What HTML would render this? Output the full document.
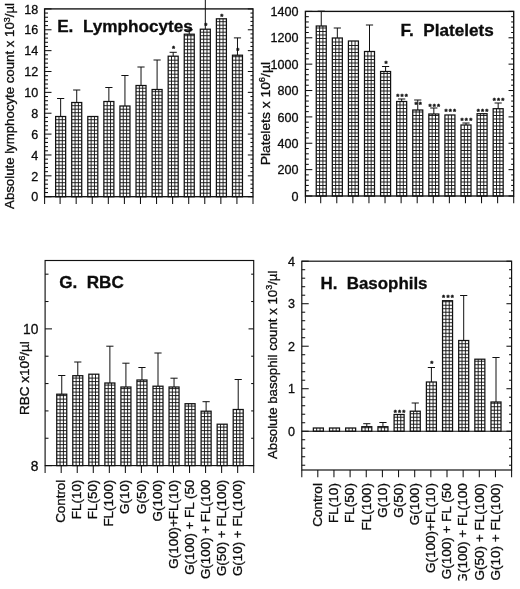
<!DOCTYPE html>
<html><head><meta charset="utf-8"><title>Figure panels E-H</title>
<style>
html,body{margin:0;padding:0;background:#fff;}
body{width:520px;height:589px;overflow:hidden;}
svg{display:block;filter:blur(0.4px);}
svg text{font-family:"Liberation Sans",Arial,Helvetica,sans-serif;fill:#0c0c0c;stroke:#0c0c0c;stroke-width:0.3px;}
</style></head><body>
<svg width="520" height="589" viewBox="0 0 520 589">
<rect width="520" height="589" fill="#fff"/>
<path d="M58.98 116.50V196.70M62.32 116.50V196.70M55.65 193.20H65.65M55.65 189.70H65.65M55.65 186.20H65.65M55.65 182.70H65.65M55.65 179.20H65.65M55.65 175.70H65.65M55.65 172.20H65.65M55.65 168.70H65.65M55.65 165.20H65.65M55.65 161.70H65.65M55.65 158.20H65.65M55.65 154.70H65.65M55.65 151.20H65.65M55.65 147.70H65.65M55.65 144.20H65.65M55.65 140.70H65.65M55.65 137.20H65.65M55.65 133.70H65.65M55.65 130.20H65.65M55.65 126.70H65.65M55.65 123.20H65.65M55.65 119.70H65.65" stroke="#111" stroke-width="0.92" fill="none"/>
<rect x="55.65" y="116.50" width="10.00" height="80.20" fill="none" stroke="#111" stroke-width="1.25"/>
<line x1="60.65" y1="98.50" x2="60.65" y2="116.50" stroke="#111" stroke-width="1.0"/>
<line x1="57.05" y1="98.50" x2="64.25" y2="98.50" stroke="#111" stroke-width="1.0"/>
<path d="M75.06 102.50V196.70M78.39 102.50V196.70M71.72 193.20H81.72M71.72 189.70H81.72M71.72 186.20H81.72M71.72 182.70H81.72M71.72 179.20H81.72M71.72 175.70H81.72M71.72 172.20H81.72M71.72 168.70H81.72M71.72 165.20H81.72M71.72 161.70H81.72M71.72 158.20H81.72M71.72 154.70H81.72M71.72 151.20H81.72M71.72 147.70H81.72M71.72 144.20H81.72M71.72 140.70H81.72M71.72 137.20H81.72M71.72 133.70H81.72M71.72 130.20H81.72M71.72 126.70H81.72M71.72 123.20H81.72M71.72 119.70H81.72M71.72 116.20H81.72M71.72 112.70H81.72M71.72 109.20H81.72M71.72 105.70H81.72" stroke="#111" stroke-width="0.92" fill="none"/>
<rect x="71.72" y="102.50" width="10.00" height="94.20" fill="none" stroke="#111" stroke-width="1.25"/>
<line x1="76.72" y1="90.00" x2="76.72" y2="102.50" stroke="#111" stroke-width="1.0"/>
<line x1="73.12" y1="90.00" x2="80.32" y2="90.00" stroke="#111" stroke-width="1.0"/>
<path d="M91.13 116.50V196.70M94.47 116.50V196.70M87.80 193.20H97.80M87.80 189.70H97.80M87.80 186.20H97.80M87.80 182.70H97.80M87.80 179.20H97.80M87.80 175.70H97.80M87.80 172.20H97.80M87.80 168.70H97.80M87.80 165.20H97.80M87.80 161.70H97.80M87.80 158.20H97.80M87.80 154.70H97.80M87.80 151.20H97.80M87.80 147.70H97.80M87.80 144.20H97.80M87.80 140.70H97.80M87.80 137.20H97.80M87.80 133.70H97.80M87.80 130.20H97.80M87.80 126.70H97.80M87.80 123.20H97.80M87.80 119.70H97.80" stroke="#111" stroke-width="0.92" fill="none"/>
<rect x="87.80" y="116.50" width="10.00" height="80.20" fill="none" stroke="#111" stroke-width="1.25"/>
<path d="M107.21 101.50V196.70M110.54 101.50V196.70M103.87 193.20H113.87M103.87 189.70H113.87M103.87 186.20H113.87M103.87 182.70H113.87M103.87 179.20H113.87M103.87 175.70H113.87M103.87 172.20H113.87M103.87 168.70H113.87M103.87 165.20H113.87M103.87 161.70H113.87M103.87 158.20H113.87M103.87 154.70H113.87M103.87 151.20H113.87M103.87 147.70H113.87M103.87 144.20H113.87M103.87 140.70H113.87M103.87 137.20H113.87M103.87 133.70H113.87M103.87 130.20H113.87M103.87 126.70H113.87M103.87 123.20H113.87M103.87 119.70H113.87M103.87 116.20H113.87M103.87 112.70H113.87M103.87 109.20H113.87M103.87 105.70H113.87" stroke="#111" stroke-width="0.92" fill="none"/>
<rect x="103.87" y="101.50" width="10.00" height="95.20" fill="none" stroke="#111" stroke-width="1.25"/>
<line x1="108.87" y1="87.50" x2="108.87" y2="101.50" stroke="#111" stroke-width="1.0"/>
<line x1="105.27" y1="87.50" x2="112.47" y2="87.50" stroke="#111" stroke-width="1.0"/>
<path d="M123.28 106.00V196.70M126.62 106.00V196.70M119.95 193.20H129.95M119.95 189.70H129.95M119.95 186.20H129.95M119.95 182.70H129.95M119.95 179.20H129.95M119.95 175.70H129.95M119.95 172.20H129.95M119.95 168.70H129.95M119.95 165.20H129.95M119.95 161.70H129.95M119.95 158.20H129.95M119.95 154.70H129.95M119.95 151.20H129.95M119.95 147.70H129.95M119.95 144.20H129.95M119.95 140.70H129.95M119.95 137.20H129.95M119.95 133.70H129.95M119.95 130.20H129.95M119.95 126.70H129.95M119.95 123.20H129.95M119.95 119.70H129.95M119.95 116.20H129.95M119.95 112.70H129.95M119.95 109.20H129.95" stroke="#111" stroke-width="0.92" fill="none"/>
<rect x="119.95" y="106.00" width="10.00" height="90.70" fill="none" stroke="#111" stroke-width="1.25"/>
<line x1="124.95" y1="75.50" x2="124.95" y2="106.00" stroke="#111" stroke-width="1.0"/>
<line x1="121.35" y1="75.50" x2="128.55" y2="75.50" stroke="#111" stroke-width="1.0"/>
<path d="M139.36 85.50V196.70M142.69 85.50V196.70M136.03 193.20H146.03M136.03 189.70H146.03M136.03 186.20H146.03M136.03 182.70H146.03M136.03 179.20H146.03M136.03 175.70H146.03M136.03 172.20H146.03M136.03 168.70H146.03M136.03 165.20H146.03M136.03 161.70H146.03M136.03 158.20H146.03M136.03 154.70H146.03M136.03 151.20H146.03M136.03 147.70H146.03M136.03 144.20H146.03M136.03 140.70H146.03M136.03 137.20H146.03M136.03 133.70H146.03M136.03 130.20H146.03M136.03 126.70H146.03M136.03 123.20H146.03M136.03 119.70H146.03M136.03 116.20H146.03M136.03 112.70H146.03M136.03 109.20H146.03M136.03 105.70H146.03M136.03 102.20H146.03M136.03 98.70H146.03M136.03 95.20H146.03M136.03 91.70H146.03M136.03 88.20H146.03" stroke="#111" stroke-width="0.92" fill="none"/>
<rect x="136.03" y="85.50" width="10.00" height="111.20" fill="none" stroke="#111" stroke-width="1.25"/>
<line x1="141.03" y1="67.00" x2="141.03" y2="85.50" stroke="#111" stroke-width="1.0"/>
<line x1="137.43" y1="67.00" x2="144.62" y2="67.00" stroke="#111" stroke-width="1.0"/>
<path d="M155.43 89.50V196.70M158.77 89.50V196.70M152.10 193.20H162.10M152.10 189.70H162.10M152.10 186.20H162.10M152.10 182.70H162.10M152.10 179.20H162.10M152.10 175.70H162.10M152.10 172.20H162.10M152.10 168.70H162.10M152.10 165.20H162.10M152.10 161.70H162.10M152.10 158.20H162.10M152.10 154.70H162.10M152.10 151.20H162.10M152.10 147.70H162.10M152.10 144.20H162.10M152.10 140.70H162.10M152.10 137.20H162.10M152.10 133.70H162.10M152.10 130.20H162.10M152.10 126.70H162.10M152.10 123.20H162.10M152.10 119.70H162.10M152.10 116.20H162.10M152.10 112.70H162.10M152.10 109.20H162.10M152.10 105.70H162.10M152.10 102.20H162.10M152.10 98.70H162.10M152.10 95.20H162.10M152.10 91.70H162.10" stroke="#111" stroke-width="0.92" fill="none"/>
<rect x="152.10" y="89.50" width="10.00" height="107.20" fill="none" stroke="#111" stroke-width="1.25"/>
<line x1="157.10" y1="60.00" x2="157.10" y2="89.50" stroke="#111" stroke-width="1.0"/>
<line x1="153.50" y1="60.00" x2="160.70" y2="60.00" stroke="#111" stroke-width="1.0"/>
<path d="M171.51 56.20V196.70M174.84 56.20V196.70M168.18 193.20H178.18M168.18 189.70H178.18M168.18 186.20H178.18M168.18 182.70H178.18M168.18 179.20H178.18M168.18 175.70H178.18M168.18 172.20H178.18M168.18 168.70H178.18M168.18 165.20H178.18M168.18 161.70H178.18M168.18 158.20H178.18M168.18 154.70H178.18M168.18 151.20H178.18M168.18 147.70H178.18M168.18 144.20H178.18M168.18 140.70H178.18M168.18 137.20H178.18M168.18 133.70H178.18M168.18 130.20H178.18M168.18 126.70H178.18M168.18 123.20H178.18M168.18 119.70H178.18M168.18 116.20H178.18M168.18 112.70H178.18M168.18 109.20H178.18M168.18 105.70H178.18M168.18 102.20H178.18M168.18 98.70H178.18M168.18 95.20H178.18M168.18 91.70H178.18M168.18 88.20H178.18M168.18 84.70H178.18M168.18 81.20H178.18M168.18 77.70H178.18M168.18 74.20H178.18M168.18 70.70H178.18M168.18 67.20H178.18M168.18 63.70H178.18M168.18 60.20H178.18" stroke="#111" stroke-width="0.92" fill="none"/>
<rect x="168.18" y="56.20" width="10.00" height="140.50" fill="none" stroke="#111" stroke-width="1.25"/>
<line x1="173.18" y1="52.30" x2="173.18" y2="56.20" stroke="#111" stroke-width="1.0"/>
<line x1="169.58" y1="52.30" x2="176.78" y2="52.30" stroke="#111" stroke-width="1.0"/>
<path d="M187.58 34.20V196.70M190.92 34.20V196.70M184.25 193.20H194.25M184.25 189.70H194.25M184.25 186.20H194.25M184.25 182.70H194.25M184.25 179.20H194.25M184.25 175.70H194.25M184.25 172.20H194.25M184.25 168.70H194.25M184.25 165.20H194.25M184.25 161.70H194.25M184.25 158.20H194.25M184.25 154.70H194.25M184.25 151.20H194.25M184.25 147.70H194.25M184.25 144.20H194.25M184.25 140.70H194.25M184.25 137.20H194.25M184.25 133.70H194.25M184.25 130.20H194.25M184.25 126.70H194.25M184.25 123.20H194.25M184.25 119.70H194.25M184.25 116.20H194.25M184.25 112.70H194.25M184.25 109.20H194.25M184.25 105.70H194.25M184.25 102.20H194.25M184.25 98.70H194.25M184.25 95.20H194.25M184.25 91.70H194.25M184.25 88.20H194.25M184.25 84.70H194.25M184.25 81.20H194.25M184.25 77.70H194.25M184.25 74.20H194.25M184.25 70.70H194.25M184.25 67.20H194.25M184.25 63.70H194.25M184.25 60.20H194.25M184.25 56.70H194.25M184.25 53.20H194.25M184.25 49.70H194.25M184.25 46.20H194.25M184.25 42.70H194.25M184.25 39.20H194.25M184.25 35.70H194.25" stroke="#111" stroke-width="0.92" fill="none"/>
<rect x="184.25" y="34.20" width="10.00" height="162.50" fill="none" stroke="#111" stroke-width="1.25"/>
<line x1="189.25" y1="29.80" x2="189.25" y2="34.20" stroke="#111" stroke-width="1.0"/>
<line x1="185.65" y1="29.80" x2="192.85" y2="29.80" stroke="#111" stroke-width="1.0"/>
<path d="M203.66 29.20V196.70M206.99 29.20V196.70M200.32 193.20H210.32M200.32 189.70H210.32M200.32 186.20H210.32M200.32 182.70H210.32M200.32 179.20H210.32M200.32 175.70H210.32M200.32 172.20H210.32M200.32 168.70H210.32M200.32 165.20H210.32M200.32 161.70H210.32M200.32 158.20H210.32M200.32 154.70H210.32M200.32 151.20H210.32M200.32 147.70H210.32M200.32 144.20H210.32M200.32 140.70H210.32M200.32 137.20H210.32M200.32 133.70H210.32M200.32 130.20H210.32M200.32 126.70H210.32M200.32 123.20H210.32M200.32 119.70H210.32M200.32 116.20H210.32M200.32 112.70H210.32M200.32 109.20H210.32M200.32 105.70H210.32M200.32 102.20H210.32M200.32 98.70H210.32M200.32 95.20H210.32M200.32 91.70H210.32M200.32 88.20H210.32M200.32 84.70H210.32M200.32 81.20H210.32M200.32 77.70H210.32M200.32 74.20H210.32M200.32 70.70H210.32M200.32 67.20H210.32M200.32 63.70H210.32M200.32 60.20H210.32M200.32 56.70H210.32M200.32 53.20H210.32M200.32 49.70H210.32M200.32 46.20H210.32M200.32 42.70H210.32M200.32 39.20H210.32M200.32 35.70H210.32M200.32 32.20H210.32" stroke="#111" stroke-width="0.92" fill="none"/>
<rect x="200.32" y="29.20" width="10.00" height="167.50" fill="none" stroke="#111" stroke-width="1.25"/>
<line x1="205.32" y1="0.00" x2="205.32" y2="29.20" stroke="#111" stroke-width="1.0"/>
<path d="M219.73 18.80V196.70M223.07 18.80V196.70M216.40 193.20H226.40M216.40 189.70H226.40M216.40 186.20H226.40M216.40 182.70H226.40M216.40 179.20H226.40M216.40 175.70H226.40M216.40 172.20H226.40M216.40 168.70H226.40M216.40 165.20H226.40M216.40 161.70H226.40M216.40 158.20H226.40M216.40 154.70H226.40M216.40 151.20H226.40M216.40 147.70H226.40M216.40 144.20H226.40M216.40 140.70H226.40M216.40 137.20H226.40M216.40 133.70H226.40M216.40 130.20H226.40M216.40 126.70H226.40M216.40 123.20H226.40M216.40 119.70H226.40M216.40 116.20H226.40M216.40 112.70H226.40M216.40 109.20H226.40M216.40 105.70H226.40M216.40 102.20H226.40M216.40 98.70H226.40M216.40 95.20H226.40M216.40 91.70H226.40M216.40 88.20H226.40M216.40 84.70H226.40M216.40 81.20H226.40M216.40 77.70H226.40M216.40 74.20H226.40M216.40 70.70H226.40M216.40 67.20H226.40M216.40 63.70H226.40M216.40 60.20H226.40M216.40 56.70H226.40M216.40 53.20H226.40M216.40 49.70H226.40M216.40 46.20H226.40M216.40 42.70H226.40M216.40 39.20H226.40M216.40 35.70H226.40M216.40 32.20H226.40M216.40 28.70H226.40M216.40 25.20H226.40M216.40 21.70H226.40" stroke="#111" stroke-width="0.92" fill="none"/>
<rect x="216.40" y="18.80" width="10.00" height="177.90" fill="none" stroke="#111" stroke-width="1.25"/>
<path d="M235.81 55.20V196.70M239.14 55.20V196.70M232.47 193.20H242.47M232.47 189.70H242.47M232.47 186.20H242.47M232.47 182.70H242.47M232.47 179.20H242.47M232.47 175.70H242.47M232.47 172.20H242.47M232.47 168.70H242.47M232.47 165.20H242.47M232.47 161.70H242.47M232.47 158.20H242.47M232.47 154.70H242.47M232.47 151.20H242.47M232.47 147.70H242.47M232.47 144.20H242.47M232.47 140.70H242.47M232.47 137.20H242.47M232.47 133.70H242.47M232.47 130.20H242.47M232.47 126.70H242.47M232.47 123.20H242.47M232.47 119.70H242.47M232.47 116.20H242.47M232.47 112.70H242.47M232.47 109.20H242.47M232.47 105.70H242.47M232.47 102.20H242.47M232.47 98.70H242.47M232.47 95.20H242.47M232.47 91.70H242.47M232.47 88.20H242.47M232.47 84.70H242.47M232.47 81.20H242.47M232.47 77.70H242.47M232.47 74.20H242.47M232.47 70.70H242.47M232.47 67.20H242.47M232.47 63.70H242.47M232.47 60.20H242.47M232.47 56.70H242.47" stroke="#111" stroke-width="0.92" fill="none"/>
<rect x="232.47" y="55.20" width="10.00" height="141.50" fill="none" stroke="#111" stroke-width="1.25"/>
<line x1="237.47" y1="37.90" x2="237.47" y2="55.20" stroke="#111" stroke-width="1.0"/>
<line x1="233.88" y1="37.90" x2="241.07" y2="37.90" stroke="#111" stroke-width="1.0"/>
<text x="172.04" y="50.62" font-size="7.9" font-weight="bold" letter-spacing="1.23" style="stroke-width:0.35px">*</text>
<text x="204.19" y="28.42" font-size="7.9" font-weight="bold" letter-spacing="1.23" style="stroke-width:0.35px">*</text>
<text x="220.26" y="18.82" font-size="7.9" font-weight="bold" letter-spacing="1.23" style="stroke-width:0.35px">*</text>
<text x="236.34" y="53.42" font-size="7.9" font-weight="bold" letter-spacing="1.23" style="stroke-width:0.35px">*</text>
<rect x="44.60" y="8.90" width="208.40" height="187.80" fill="none" stroke="#111" stroke-width="1.35"/>
<line x1="44.60" y1="196.70" x2="51.50" y2="196.70" stroke="#111" stroke-width="1.05"/>
<line x1="253.00" y1="196.70" x2="247.82" y2="196.70" stroke="#111" stroke-width="1.05"/>
<line x1="44.60" y1="192.53" x2="48.00" y2="192.53" stroke="#111" stroke-width="1.05"/>
<line x1="253.00" y1="192.53" x2="250.45" y2="192.53" stroke="#111" stroke-width="1.05"/>
<line x1="44.60" y1="188.35" x2="48.00" y2="188.35" stroke="#111" stroke-width="1.05"/>
<line x1="253.00" y1="188.35" x2="250.45" y2="188.35" stroke="#111" stroke-width="1.05"/>
<line x1="44.60" y1="184.18" x2="48.00" y2="184.18" stroke="#111" stroke-width="1.05"/>
<line x1="253.00" y1="184.18" x2="250.45" y2="184.18" stroke="#111" stroke-width="1.05"/>
<line x1="44.60" y1="180.01" x2="48.00" y2="180.01" stroke="#111" stroke-width="1.05"/>
<line x1="253.00" y1="180.01" x2="250.45" y2="180.01" stroke="#111" stroke-width="1.05"/>
<line x1="44.60" y1="175.83" x2="51.50" y2="175.83" stroke="#111" stroke-width="1.05"/>
<line x1="253.00" y1="175.83" x2="247.82" y2="175.83" stroke="#111" stroke-width="1.05"/>
<line x1="44.60" y1="171.66" x2="48.00" y2="171.66" stroke="#111" stroke-width="1.05"/>
<line x1="253.00" y1="171.66" x2="250.45" y2="171.66" stroke="#111" stroke-width="1.05"/>
<line x1="44.60" y1="167.49" x2="48.00" y2="167.49" stroke="#111" stroke-width="1.05"/>
<line x1="253.00" y1="167.49" x2="250.45" y2="167.49" stroke="#111" stroke-width="1.05"/>
<line x1="44.60" y1="163.31" x2="48.00" y2="163.31" stroke="#111" stroke-width="1.05"/>
<line x1="253.00" y1="163.31" x2="250.45" y2="163.31" stroke="#111" stroke-width="1.05"/>
<line x1="44.60" y1="159.14" x2="48.00" y2="159.14" stroke="#111" stroke-width="1.05"/>
<line x1="253.00" y1="159.14" x2="250.45" y2="159.14" stroke="#111" stroke-width="1.05"/>
<line x1="44.60" y1="154.97" x2="51.50" y2="154.97" stroke="#111" stroke-width="1.05"/>
<line x1="253.00" y1="154.97" x2="247.82" y2="154.97" stroke="#111" stroke-width="1.05"/>
<line x1="44.60" y1="150.79" x2="48.00" y2="150.79" stroke="#111" stroke-width="1.05"/>
<line x1="253.00" y1="150.79" x2="250.45" y2="150.79" stroke="#111" stroke-width="1.05"/>
<line x1="44.60" y1="146.62" x2="48.00" y2="146.62" stroke="#111" stroke-width="1.05"/>
<line x1="253.00" y1="146.62" x2="250.45" y2="146.62" stroke="#111" stroke-width="1.05"/>
<line x1="44.60" y1="142.45" x2="48.00" y2="142.45" stroke="#111" stroke-width="1.05"/>
<line x1="253.00" y1="142.45" x2="250.45" y2="142.45" stroke="#111" stroke-width="1.05"/>
<line x1="44.60" y1="138.27" x2="48.00" y2="138.27" stroke="#111" stroke-width="1.05"/>
<line x1="253.00" y1="138.27" x2="250.45" y2="138.27" stroke="#111" stroke-width="1.05"/>
<line x1="44.60" y1="134.10" x2="51.50" y2="134.10" stroke="#111" stroke-width="1.05"/>
<line x1="253.00" y1="134.10" x2="247.82" y2="134.10" stroke="#111" stroke-width="1.05"/>
<line x1="44.60" y1="129.93" x2="48.00" y2="129.93" stroke="#111" stroke-width="1.05"/>
<line x1="253.00" y1="129.93" x2="250.45" y2="129.93" stroke="#111" stroke-width="1.05"/>
<line x1="44.60" y1="125.75" x2="48.00" y2="125.75" stroke="#111" stroke-width="1.05"/>
<line x1="253.00" y1="125.75" x2="250.45" y2="125.75" stroke="#111" stroke-width="1.05"/>
<line x1="44.60" y1="121.58" x2="48.00" y2="121.58" stroke="#111" stroke-width="1.05"/>
<line x1="253.00" y1="121.58" x2="250.45" y2="121.58" stroke="#111" stroke-width="1.05"/>
<line x1="44.60" y1="117.41" x2="48.00" y2="117.41" stroke="#111" stroke-width="1.05"/>
<line x1="253.00" y1="117.41" x2="250.45" y2="117.41" stroke="#111" stroke-width="1.05"/>
<line x1="44.60" y1="113.23" x2="51.50" y2="113.23" stroke="#111" stroke-width="1.05"/>
<line x1="253.00" y1="113.23" x2="247.82" y2="113.23" stroke="#111" stroke-width="1.05"/>
<line x1="44.60" y1="109.06" x2="48.00" y2="109.06" stroke="#111" stroke-width="1.05"/>
<line x1="253.00" y1="109.06" x2="250.45" y2="109.06" stroke="#111" stroke-width="1.05"/>
<line x1="44.60" y1="104.89" x2="48.00" y2="104.89" stroke="#111" stroke-width="1.05"/>
<line x1="253.00" y1="104.89" x2="250.45" y2="104.89" stroke="#111" stroke-width="1.05"/>
<line x1="44.60" y1="100.71" x2="48.00" y2="100.71" stroke="#111" stroke-width="1.05"/>
<line x1="253.00" y1="100.71" x2="250.45" y2="100.71" stroke="#111" stroke-width="1.05"/>
<line x1="44.60" y1="96.54" x2="48.00" y2="96.54" stroke="#111" stroke-width="1.05"/>
<line x1="253.00" y1="96.54" x2="250.45" y2="96.54" stroke="#111" stroke-width="1.05"/>
<line x1="44.60" y1="92.37" x2="51.50" y2="92.37" stroke="#111" stroke-width="1.05"/>
<line x1="253.00" y1="92.37" x2="247.82" y2="92.37" stroke="#111" stroke-width="1.05"/>
<line x1="44.60" y1="88.19" x2="48.00" y2="88.19" stroke="#111" stroke-width="1.05"/>
<line x1="253.00" y1="88.19" x2="250.45" y2="88.19" stroke="#111" stroke-width="1.05"/>
<line x1="44.60" y1="84.02" x2="48.00" y2="84.02" stroke="#111" stroke-width="1.05"/>
<line x1="253.00" y1="84.02" x2="250.45" y2="84.02" stroke="#111" stroke-width="1.05"/>
<line x1="44.60" y1="79.85" x2="48.00" y2="79.85" stroke="#111" stroke-width="1.05"/>
<line x1="253.00" y1="79.85" x2="250.45" y2="79.85" stroke="#111" stroke-width="1.05"/>
<line x1="44.60" y1="75.67" x2="48.00" y2="75.67" stroke="#111" stroke-width="1.05"/>
<line x1="253.00" y1="75.67" x2="250.45" y2="75.67" stroke="#111" stroke-width="1.05"/>
<line x1="44.60" y1="71.50" x2="51.50" y2="71.50" stroke="#111" stroke-width="1.05"/>
<line x1="253.00" y1="71.50" x2="247.82" y2="71.50" stroke="#111" stroke-width="1.05"/>
<line x1="44.60" y1="67.33" x2="48.00" y2="67.33" stroke="#111" stroke-width="1.05"/>
<line x1="253.00" y1="67.33" x2="250.45" y2="67.33" stroke="#111" stroke-width="1.05"/>
<line x1="44.60" y1="63.15" x2="48.00" y2="63.15" stroke="#111" stroke-width="1.05"/>
<line x1="253.00" y1="63.15" x2="250.45" y2="63.15" stroke="#111" stroke-width="1.05"/>
<line x1="44.60" y1="58.98" x2="48.00" y2="58.98" stroke="#111" stroke-width="1.05"/>
<line x1="253.00" y1="58.98" x2="250.45" y2="58.98" stroke="#111" stroke-width="1.05"/>
<line x1="44.60" y1="54.81" x2="48.00" y2="54.81" stroke="#111" stroke-width="1.05"/>
<line x1="253.00" y1="54.81" x2="250.45" y2="54.81" stroke="#111" stroke-width="1.05"/>
<line x1="44.60" y1="50.63" x2="51.50" y2="50.63" stroke="#111" stroke-width="1.05"/>
<line x1="253.00" y1="50.63" x2="247.82" y2="50.63" stroke="#111" stroke-width="1.05"/>
<line x1="44.60" y1="46.46" x2="48.00" y2="46.46" stroke="#111" stroke-width="1.05"/>
<line x1="253.00" y1="46.46" x2="250.45" y2="46.46" stroke="#111" stroke-width="1.05"/>
<line x1="44.60" y1="42.29" x2="48.00" y2="42.29" stroke="#111" stroke-width="1.05"/>
<line x1="253.00" y1="42.29" x2="250.45" y2="42.29" stroke="#111" stroke-width="1.05"/>
<line x1="44.60" y1="38.11" x2="48.00" y2="38.11" stroke="#111" stroke-width="1.05"/>
<line x1="253.00" y1="38.11" x2="250.45" y2="38.11" stroke="#111" stroke-width="1.05"/>
<line x1="44.60" y1="33.94" x2="48.00" y2="33.94" stroke="#111" stroke-width="1.05"/>
<line x1="253.00" y1="33.94" x2="250.45" y2="33.94" stroke="#111" stroke-width="1.05"/>
<line x1="44.60" y1="29.77" x2="51.50" y2="29.77" stroke="#111" stroke-width="1.05"/>
<line x1="253.00" y1="29.77" x2="247.82" y2="29.77" stroke="#111" stroke-width="1.05"/>
<line x1="44.60" y1="25.59" x2="48.00" y2="25.59" stroke="#111" stroke-width="1.05"/>
<line x1="253.00" y1="25.59" x2="250.45" y2="25.59" stroke="#111" stroke-width="1.05"/>
<line x1="44.60" y1="21.42" x2="48.00" y2="21.42" stroke="#111" stroke-width="1.05"/>
<line x1="253.00" y1="21.42" x2="250.45" y2="21.42" stroke="#111" stroke-width="1.05"/>
<line x1="44.60" y1="17.25" x2="48.00" y2="17.25" stroke="#111" stroke-width="1.05"/>
<line x1="253.00" y1="17.25" x2="250.45" y2="17.25" stroke="#111" stroke-width="1.05"/>
<line x1="44.60" y1="13.07" x2="48.00" y2="13.07" stroke="#111" stroke-width="1.05"/>
<line x1="253.00" y1="13.07" x2="250.45" y2="13.07" stroke="#111" stroke-width="1.05"/>
<line x1="44.60" y1="8.90" x2="51.50" y2="8.90" stroke="#111" stroke-width="1.05"/>
<line x1="253.00" y1="8.90" x2="247.82" y2="8.90" stroke="#111" stroke-width="1.05"/>
<text transform="translate(38.30 201.37) scale(0.985 1)" font-size="12.8" text-anchor="end">0</text>
<text transform="translate(38.30 180.51) scale(0.985 1)" font-size="12.8" text-anchor="end">2</text>
<text transform="translate(38.30 159.64) scale(0.985 1)" font-size="12.8" text-anchor="end">4</text>
<text transform="translate(38.30 138.77) scale(0.985 1)" font-size="12.8" text-anchor="end">6</text>
<text transform="translate(38.30 117.91) scale(0.985 1)" font-size="12.8" text-anchor="end">8</text>
<text transform="translate(38.30 97.04) scale(0.985 1)" font-size="12.8" text-anchor="end">10</text>
<text transform="translate(38.30 76.17) scale(0.985 1)" font-size="12.8" text-anchor="end">12</text>
<text transform="translate(38.30 55.31) scale(0.985 1)" font-size="12.8" text-anchor="end">14</text>
<text transform="translate(38.30 34.44) scale(0.985 1)" font-size="12.8" text-anchor="end">16</text>
<text transform="translate(38.30 13.57) scale(0.985 1)" font-size="12.8" text-anchor="end">18</text>
<line x1="44.60" y1="196.70" x2="44.60" y2="204.00" stroke="#111" stroke-width="1.05"/>
<line x1="60.10" y1="196.70" x2="60.10" y2="204.00" stroke="#111" stroke-width="1.05"/>
<line x1="76.17" y1="196.70" x2="76.17" y2="204.00" stroke="#111" stroke-width="1.05"/>
<line x1="92.25" y1="196.70" x2="92.25" y2="204.00" stroke="#111" stroke-width="1.05"/>
<line x1="108.32" y1="196.70" x2="108.32" y2="204.00" stroke="#111" stroke-width="1.05"/>
<line x1="124.40" y1="196.70" x2="124.40" y2="204.00" stroke="#111" stroke-width="1.05"/>
<line x1="140.47" y1="196.70" x2="140.47" y2="204.00" stroke="#111" stroke-width="1.05"/>
<line x1="156.55" y1="196.70" x2="156.55" y2="204.00" stroke="#111" stroke-width="1.05"/>
<line x1="172.62" y1="196.70" x2="172.62" y2="204.00" stroke="#111" stroke-width="1.05"/>
<line x1="188.70" y1="196.70" x2="188.70" y2="204.00" stroke="#111" stroke-width="1.05"/>
<line x1="204.77" y1="196.70" x2="204.77" y2="204.00" stroke="#111" stroke-width="1.05"/>
<line x1="220.85" y1="196.70" x2="220.85" y2="204.00" stroke="#111" stroke-width="1.05"/>
<line x1="236.92" y1="196.70" x2="236.92" y2="204.00" stroke="#111" stroke-width="1.05"/>
<line x1="253.00" y1="196.70" x2="253.00" y2="204.00" stroke="#111" stroke-width="1.05"/>
<text x="57.2" y="32.2" font-size="16.5" font-weight="bold" textLength="135.6" lengthAdjust="spacingAndGlyphs" xml:space="preserve" style="white-space:pre">E.  Lymphocytes</text>
<text transform="translate(14.4 106.0) rotate(-90)" font-size="13.3" text-anchor="middle" textLength="205.9" lengthAdjust="spacingAndGlyphs">Absolute lymphocyte count x 10<tspan dy="-4.5" font-size="9">3</tspan><tspan dy="4.5">/µl</tspan></text>
<path d="M319.58 26.00V196.00M322.92 26.00V196.00M316.25 192.50H326.25M316.25 189.00H326.25M316.25 185.50H326.25M316.25 182.00H326.25M316.25 178.50H326.25M316.25 175.00H326.25M316.25 171.50H326.25M316.25 168.00H326.25M316.25 164.50H326.25M316.25 161.00H326.25M316.25 157.50H326.25M316.25 154.00H326.25M316.25 150.50H326.25M316.25 147.00H326.25M316.25 143.50H326.25M316.25 140.00H326.25M316.25 136.50H326.25M316.25 133.00H326.25M316.25 129.50H326.25M316.25 126.00H326.25M316.25 122.50H326.25M316.25 119.00H326.25M316.25 115.50H326.25M316.25 112.00H326.25M316.25 108.50H326.25M316.25 105.00H326.25M316.25 101.50H326.25M316.25 98.00H326.25M316.25 94.50H326.25M316.25 91.00H326.25M316.25 87.50H326.25M316.25 84.00H326.25M316.25 80.50H326.25M316.25 77.00H326.25M316.25 73.50H326.25M316.25 70.00H326.25M316.25 66.50H326.25M316.25 63.00H326.25M316.25 59.50H326.25M316.25 56.00H326.25M316.25 52.50H326.25M316.25 49.00H326.25M316.25 45.50H326.25M316.25 42.00H326.25M316.25 38.50H326.25M316.25 35.00H326.25M316.25 31.50H326.25M316.25 28.00H326.25" stroke="#111" stroke-width="0.92" fill="none"/>
<rect x="316.25" y="26.00" width="10.00" height="170.00" fill="none" stroke="#111" stroke-width="1.25"/>
<line x1="321.25" y1="11.20" x2="321.25" y2="26.00" stroke="#111" stroke-width="1.0"/>
<line x1="317.65" y1="11.20" x2="324.85" y2="11.20" stroke="#111" stroke-width="1.0"/>
<path d="M335.67 38.00V196.00M339.00 38.00V196.00M332.33 192.50H342.33M332.33 189.00H342.33M332.33 185.50H342.33M332.33 182.00H342.33M332.33 178.50H342.33M332.33 175.00H342.33M332.33 171.50H342.33M332.33 168.00H342.33M332.33 164.50H342.33M332.33 161.00H342.33M332.33 157.50H342.33M332.33 154.00H342.33M332.33 150.50H342.33M332.33 147.00H342.33M332.33 143.50H342.33M332.33 140.00H342.33M332.33 136.50H342.33M332.33 133.00H342.33M332.33 129.50H342.33M332.33 126.00H342.33M332.33 122.50H342.33M332.33 119.00H342.33M332.33 115.50H342.33M332.33 112.00H342.33M332.33 108.50H342.33M332.33 105.00H342.33M332.33 101.50H342.33M332.33 98.00H342.33M332.33 94.50H342.33M332.33 91.00H342.33M332.33 87.50H342.33M332.33 84.00H342.33M332.33 80.50H342.33M332.33 77.00H342.33M332.33 73.50H342.33M332.33 70.00H342.33M332.33 66.50H342.33M332.33 63.00H342.33M332.33 59.50H342.33M332.33 56.00H342.33M332.33 52.50H342.33M332.33 49.00H342.33M332.33 45.50H342.33M332.33 42.00H342.33" stroke="#111" stroke-width="0.92" fill="none"/>
<rect x="332.33" y="38.00" width="10.00" height="158.00" fill="none" stroke="#111" stroke-width="1.25"/>
<line x1="337.33" y1="28.00" x2="337.33" y2="38.00" stroke="#111" stroke-width="1.0"/>
<line x1="333.73" y1="28.00" x2="340.93" y2="28.00" stroke="#111" stroke-width="1.0"/>
<path d="M351.75 41.00V196.00M355.08 41.00V196.00M348.42 192.50H358.42M348.42 189.00H358.42M348.42 185.50H358.42M348.42 182.00H358.42M348.42 178.50H358.42M348.42 175.00H358.42M348.42 171.50H358.42M348.42 168.00H358.42M348.42 164.50H358.42M348.42 161.00H358.42M348.42 157.50H358.42M348.42 154.00H358.42M348.42 150.50H358.42M348.42 147.00H358.42M348.42 143.50H358.42M348.42 140.00H358.42M348.42 136.50H358.42M348.42 133.00H358.42M348.42 129.50H358.42M348.42 126.00H358.42M348.42 122.50H358.42M348.42 119.00H358.42M348.42 115.50H358.42M348.42 112.00H358.42M348.42 108.50H358.42M348.42 105.00H358.42M348.42 101.50H358.42M348.42 98.00H358.42M348.42 94.50H358.42M348.42 91.00H358.42M348.42 87.50H358.42M348.42 84.00H358.42M348.42 80.50H358.42M348.42 77.00H358.42M348.42 73.50H358.42M348.42 70.00H358.42M348.42 66.50H358.42M348.42 63.00H358.42M348.42 59.50H358.42M348.42 56.00H358.42M348.42 52.50H358.42M348.42 49.00H358.42M348.42 45.50H358.42" stroke="#111" stroke-width="0.92" fill="none"/>
<rect x="348.42" y="41.00" width="10.00" height="155.00" fill="none" stroke="#111" stroke-width="1.25"/>
<path d="M367.83 51.50V196.00M371.17 51.50V196.00M364.50 192.50H374.50M364.50 189.00H374.50M364.50 185.50H374.50M364.50 182.00H374.50M364.50 178.50H374.50M364.50 175.00H374.50M364.50 171.50H374.50M364.50 168.00H374.50M364.50 164.50H374.50M364.50 161.00H374.50M364.50 157.50H374.50M364.50 154.00H374.50M364.50 150.50H374.50M364.50 147.00H374.50M364.50 143.50H374.50M364.50 140.00H374.50M364.50 136.50H374.50M364.50 133.00H374.50M364.50 129.50H374.50M364.50 126.00H374.50M364.50 122.50H374.50M364.50 119.00H374.50M364.50 115.50H374.50M364.50 112.00H374.50M364.50 108.50H374.50M364.50 105.00H374.50M364.50 101.50H374.50M364.50 98.00H374.50M364.50 94.50H374.50M364.50 91.00H374.50M364.50 87.50H374.50M364.50 84.00H374.50M364.50 80.50H374.50M364.50 77.00H374.50M364.50 73.50H374.50M364.50 70.00H374.50M364.50 66.50H374.50M364.50 63.00H374.50M364.50 59.50H374.50M364.50 56.00H374.50" stroke="#111" stroke-width="0.92" fill="none"/>
<rect x="364.50" y="51.50" width="10.00" height="144.50" fill="none" stroke="#111" stroke-width="1.25"/>
<line x1="369.50" y1="25.00" x2="369.50" y2="51.50" stroke="#111" stroke-width="1.0"/>
<line x1="365.90" y1="25.00" x2="373.10" y2="25.00" stroke="#111" stroke-width="1.0"/>
<path d="M383.92 71.50V196.00M387.25 71.50V196.00M380.58 192.50H390.58M380.58 189.00H390.58M380.58 185.50H390.58M380.58 182.00H390.58M380.58 178.50H390.58M380.58 175.00H390.58M380.58 171.50H390.58M380.58 168.00H390.58M380.58 164.50H390.58M380.58 161.00H390.58M380.58 157.50H390.58M380.58 154.00H390.58M380.58 150.50H390.58M380.58 147.00H390.58M380.58 143.50H390.58M380.58 140.00H390.58M380.58 136.50H390.58M380.58 133.00H390.58M380.58 129.50H390.58M380.58 126.00H390.58M380.58 122.50H390.58M380.58 119.00H390.58M380.58 115.50H390.58M380.58 112.00H390.58M380.58 108.50H390.58M380.58 105.00H390.58M380.58 101.50H390.58M380.58 98.00H390.58M380.58 94.50H390.58M380.58 91.00H390.58M380.58 87.50H390.58M380.58 84.00H390.58M380.58 80.50H390.58M380.58 77.00H390.58M380.58 73.50H390.58" stroke="#111" stroke-width="0.92" fill="none"/>
<rect x="380.58" y="71.50" width="10.00" height="124.50" fill="none" stroke="#111" stroke-width="1.25"/>
<line x1="385.58" y1="66.50" x2="385.58" y2="71.50" stroke="#111" stroke-width="1.0"/>
<line x1="381.98" y1="66.50" x2="389.18" y2="66.50" stroke="#111" stroke-width="1.0"/>
<path d="M400.00 101.50V196.00M403.33 101.50V196.00M396.67 192.50H406.67M396.67 189.00H406.67M396.67 185.50H406.67M396.67 182.00H406.67M396.67 178.50H406.67M396.67 175.00H406.67M396.67 171.50H406.67M396.67 168.00H406.67M396.67 164.50H406.67M396.67 161.00H406.67M396.67 157.50H406.67M396.67 154.00H406.67M396.67 150.50H406.67M396.67 147.00H406.67M396.67 143.50H406.67M396.67 140.00H406.67M396.67 136.50H406.67M396.67 133.00H406.67M396.67 129.50H406.67M396.67 126.00H406.67M396.67 122.50H406.67M396.67 119.00H406.67M396.67 115.50H406.67M396.67 112.00H406.67M396.67 108.50H406.67M396.67 105.00H406.67" stroke="#111" stroke-width="0.92" fill="none"/>
<rect x="396.67" y="101.50" width="10.00" height="94.50" fill="none" stroke="#111" stroke-width="1.25"/>
<line x1="401.67" y1="99.00" x2="401.67" y2="101.50" stroke="#111" stroke-width="1.0"/>
<line x1="398.07" y1="99.00" x2="405.27" y2="99.00" stroke="#111" stroke-width="1.0"/>
<path d="M416.08 110.00V196.00M419.42 110.00V196.00M412.75 192.50H422.75M412.75 189.00H422.75M412.75 185.50H422.75M412.75 182.00H422.75M412.75 178.50H422.75M412.75 175.00H422.75M412.75 171.50H422.75M412.75 168.00H422.75M412.75 164.50H422.75M412.75 161.00H422.75M412.75 157.50H422.75M412.75 154.00H422.75M412.75 150.50H422.75M412.75 147.00H422.75M412.75 143.50H422.75M412.75 140.00H422.75M412.75 136.50H422.75M412.75 133.00H422.75M412.75 129.50H422.75M412.75 126.00H422.75M412.75 122.50H422.75M412.75 119.00H422.75M412.75 115.50H422.75M412.75 112.00H422.75" stroke="#111" stroke-width="0.92" fill="none"/>
<rect x="412.75" y="110.00" width="10.00" height="86.00" fill="none" stroke="#111" stroke-width="1.25"/>
<line x1="417.75" y1="100.00" x2="417.75" y2="110.00" stroke="#111" stroke-width="1.0"/>
<line x1="414.15" y1="100.00" x2="421.35" y2="100.00" stroke="#111" stroke-width="1.0"/>
<path d="M432.17 114.00V196.00M435.50 114.00V196.00M428.83 192.50H438.83M428.83 189.00H438.83M428.83 185.50H438.83M428.83 182.00H438.83M428.83 178.50H438.83M428.83 175.00H438.83M428.83 171.50H438.83M428.83 168.00H438.83M428.83 164.50H438.83M428.83 161.00H438.83M428.83 157.50H438.83M428.83 154.00H438.83M428.83 150.50H438.83M428.83 147.00H438.83M428.83 143.50H438.83M428.83 140.00H438.83M428.83 136.50H438.83M428.83 133.00H438.83M428.83 129.50H438.83M428.83 126.00H438.83M428.83 122.50H438.83M428.83 119.00H438.83M428.83 115.50H438.83" stroke="#111" stroke-width="0.92" fill="none"/>
<rect x="428.83" y="114.00" width="10.00" height="82.00" fill="none" stroke="#111" stroke-width="1.25"/>
<line x1="433.83" y1="108.00" x2="433.83" y2="114.00" stroke="#111" stroke-width="1.0"/>
<line x1="430.23" y1="108.00" x2="437.43" y2="108.00" stroke="#111" stroke-width="1.0"/>
<path d="M448.25 115.00V196.00M451.58 115.00V196.00M444.92 192.50H454.92M444.92 189.00H454.92M444.92 185.50H454.92M444.92 182.00H454.92M444.92 178.50H454.92M444.92 175.00H454.92M444.92 171.50H454.92M444.92 168.00H454.92M444.92 164.50H454.92M444.92 161.00H454.92M444.92 157.50H454.92M444.92 154.00H454.92M444.92 150.50H454.92M444.92 147.00H454.92M444.92 143.50H454.92M444.92 140.00H454.92M444.92 136.50H454.92M444.92 133.00H454.92M444.92 129.50H454.92M444.92 126.00H454.92M444.92 122.50H454.92M444.92 119.00H454.92" stroke="#111" stroke-width="0.92" fill="none"/>
<rect x="444.92" y="115.00" width="10.00" height="81.00" fill="none" stroke="#111" stroke-width="1.25"/>
<path d="M464.33 125.00V196.00M467.67 125.00V196.00M461.00 192.50H471.00M461.00 189.00H471.00M461.00 185.50H471.00M461.00 182.00H471.00M461.00 178.50H471.00M461.00 175.00H471.00M461.00 171.50H471.00M461.00 168.00H471.00M461.00 164.50H471.00M461.00 161.00H471.00M461.00 157.50H471.00M461.00 154.00H471.00M461.00 150.50H471.00M461.00 147.00H471.00M461.00 143.50H471.00M461.00 140.00H471.00M461.00 136.50H471.00M461.00 133.00H471.00M461.00 129.50H471.00" stroke="#111" stroke-width="0.92" fill="none"/>
<rect x="461.00" y="125.00" width="10.00" height="71.00" fill="none" stroke="#111" stroke-width="1.25"/>
<line x1="466.00" y1="123.00" x2="466.00" y2="125.00" stroke="#111" stroke-width="1.0"/>
<line x1="462.40" y1="123.00" x2="469.60" y2="123.00" stroke="#111" stroke-width="1.0"/>
<path d="M480.42 113.70V196.00M483.75 113.70V196.00M477.08 192.50H487.08M477.08 189.00H487.08M477.08 185.50H487.08M477.08 182.00H487.08M477.08 178.50H487.08M477.08 175.00H487.08M477.08 171.50H487.08M477.08 168.00H487.08M477.08 164.50H487.08M477.08 161.00H487.08M477.08 157.50H487.08M477.08 154.00H487.08M477.08 150.50H487.08M477.08 147.00H487.08M477.08 143.50H487.08M477.08 140.00H487.08M477.08 136.50H487.08M477.08 133.00H487.08M477.08 129.50H487.08M477.08 126.00H487.08M477.08 122.50H487.08M477.08 119.00H487.08M477.08 115.50H487.08" stroke="#111" stroke-width="0.92" fill="none"/>
<rect x="477.08" y="113.70" width="10.00" height="82.30" fill="none" stroke="#111" stroke-width="1.25"/>
<path d="M496.50 108.70V196.00M499.83 108.70V196.00M493.17 192.50H503.17M493.17 189.00H503.17M493.17 185.50H503.17M493.17 182.00H503.17M493.17 178.50H503.17M493.17 175.00H503.17M493.17 171.50H503.17M493.17 168.00H503.17M493.17 164.50H503.17M493.17 161.00H503.17M493.17 157.50H503.17M493.17 154.00H503.17M493.17 150.50H503.17M493.17 147.00H503.17M493.17 143.50H503.17M493.17 140.00H503.17M493.17 136.50H503.17M493.17 133.00H503.17M493.17 129.50H503.17M493.17 126.00H503.17M493.17 122.50H503.17M493.17 119.00H503.17M493.17 115.50H503.17M493.17 112.00H503.17" stroke="#111" stroke-width="0.92" fill="none"/>
<rect x="493.17" y="108.70" width="10.00" height="87.30" fill="none" stroke="#111" stroke-width="1.25"/>
<line x1="498.17" y1="103.00" x2="498.17" y2="108.70" stroke="#111" stroke-width="1.0"/>
<line x1="494.57" y1="103.00" x2="501.77" y2="103.00" stroke="#111" stroke-width="1.0"/>
<text x="384.45" y="66.12" font-size="7.9" font-weight="bold" letter-spacing="1.23" style="stroke-width:0.35px">*</text>
<text x="396.23" y="98.82" font-size="7.9" font-weight="bold" letter-spacing="1.23" style="stroke-width:0.35px">***</text>
<text x="414.46" y="107.12" font-size="7.9" font-weight="bold" letter-spacing="1.23" style="stroke-width:0.35px">**</text>
<text x="428.40" y="109.12" font-size="7.9" font-weight="bold" letter-spacing="1.23" style="stroke-width:0.35px">***</text>
<text x="444.48" y="114.12" font-size="7.9" font-weight="bold" letter-spacing="1.23" style="stroke-width:0.35px">***</text>
<text x="460.56" y="123.12" font-size="7.9" font-weight="bold" letter-spacing="1.23" style="stroke-width:0.35px">***</text>
<text x="476.65" y="113.62" font-size="7.9" font-weight="bold" letter-spacing="1.23" style="stroke-width:0.35px">***</text>
<text x="492.73" y="102.62" font-size="7.9" font-weight="bold" letter-spacing="1.23" style="stroke-width:0.35px">***</text>
<rect x="305.40" y="11.40" width="208.30" height="184.60" fill="none" stroke="#111" stroke-width="1.35"/>
<line x1="305.40" y1="196.00" x2="312.30" y2="196.00" stroke="#111" stroke-width="1.05"/>
<line x1="513.70" y1="196.00" x2="508.53" y2="196.00" stroke="#111" stroke-width="1.05"/>
<line x1="305.40" y1="190.73" x2="308.80" y2="190.73" stroke="#111" stroke-width="1.05"/>
<line x1="513.70" y1="190.73" x2="511.15" y2="190.73" stroke="#111" stroke-width="1.05"/>
<line x1="305.40" y1="185.45" x2="308.80" y2="185.45" stroke="#111" stroke-width="1.05"/>
<line x1="513.70" y1="185.45" x2="511.15" y2="185.45" stroke="#111" stroke-width="1.05"/>
<line x1="305.40" y1="180.18" x2="308.80" y2="180.18" stroke="#111" stroke-width="1.05"/>
<line x1="513.70" y1="180.18" x2="511.15" y2="180.18" stroke="#111" stroke-width="1.05"/>
<line x1="305.40" y1="174.90" x2="308.80" y2="174.90" stroke="#111" stroke-width="1.05"/>
<line x1="513.70" y1="174.90" x2="511.15" y2="174.90" stroke="#111" stroke-width="1.05"/>
<line x1="305.40" y1="169.63" x2="312.30" y2="169.63" stroke="#111" stroke-width="1.05"/>
<line x1="513.70" y1="169.63" x2="508.53" y2="169.63" stroke="#111" stroke-width="1.05"/>
<line x1="305.40" y1="164.35" x2="308.80" y2="164.35" stroke="#111" stroke-width="1.05"/>
<line x1="513.70" y1="164.35" x2="511.15" y2="164.35" stroke="#111" stroke-width="1.05"/>
<line x1="305.40" y1="159.08" x2="308.80" y2="159.08" stroke="#111" stroke-width="1.05"/>
<line x1="513.70" y1="159.08" x2="511.15" y2="159.08" stroke="#111" stroke-width="1.05"/>
<line x1="305.40" y1="153.81" x2="308.80" y2="153.81" stroke="#111" stroke-width="1.05"/>
<line x1="513.70" y1="153.81" x2="511.15" y2="153.81" stroke="#111" stroke-width="1.05"/>
<line x1="305.40" y1="148.53" x2="308.80" y2="148.53" stroke="#111" stroke-width="1.05"/>
<line x1="513.70" y1="148.53" x2="511.15" y2="148.53" stroke="#111" stroke-width="1.05"/>
<line x1="305.40" y1="143.26" x2="312.30" y2="143.26" stroke="#111" stroke-width="1.05"/>
<line x1="513.70" y1="143.26" x2="508.53" y2="143.26" stroke="#111" stroke-width="1.05"/>
<line x1="305.40" y1="137.98" x2="308.80" y2="137.98" stroke="#111" stroke-width="1.05"/>
<line x1="513.70" y1="137.98" x2="511.15" y2="137.98" stroke="#111" stroke-width="1.05"/>
<line x1="305.40" y1="132.71" x2="308.80" y2="132.71" stroke="#111" stroke-width="1.05"/>
<line x1="513.70" y1="132.71" x2="511.15" y2="132.71" stroke="#111" stroke-width="1.05"/>
<line x1="305.40" y1="127.43" x2="308.80" y2="127.43" stroke="#111" stroke-width="1.05"/>
<line x1="513.70" y1="127.43" x2="511.15" y2="127.43" stroke="#111" stroke-width="1.05"/>
<line x1="305.40" y1="122.16" x2="308.80" y2="122.16" stroke="#111" stroke-width="1.05"/>
<line x1="513.70" y1="122.16" x2="511.15" y2="122.16" stroke="#111" stroke-width="1.05"/>
<line x1="305.40" y1="116.89" x2="312.30" y2="116.89" stroke="#111" stroke-width="1.05"/>
<line x1="513.70" y1="116.89" x2="508.53" y2="116.89" stroke="#111" stroke-width="1.05"/>
<line x1="305.40" y1="111.61" x2="308.80" y2="111.61" stroke="#111" stroke-width="1.05"/>
<line x1="513.70" y1="111.61" x2="511.15" y2="111.61" stroke="#111" stroke-width="1.05"/>
<line x1="305.40" y1="106.34" x2="308.80" y2="106.34" stroke="#111" stroke-width="1.05"/>
<line x1="513.70" y1="106.34" x2="511.15" y2="106.34" stroke="#111" stroke-width="1.05"/>
<line x1="305.40" y1="101.06" x2="308.80" y2="101.06" stroke="#111" stroke-width="1.05"/>
<line x1="513.70" y1="101.06" x2="511.15" y2="101.06" stroke="#111" stroke-width="1.05"/>
<line x1="305.40" y1="95.79" x2="308.80" y2="95.79" stroke="#111" stroke-width="1.05"/>
<line x1="513.70" y1="95.79" x2="511.15" y2="95.79" stroke="#111" stroke-width="1.05"/>
<line x1="305.40" y1="90.51" x2="312.30" y2="90.51" stroke="#111" stroke-width="1.05"/>
<line x1="513.70" y1="90.51" x2="508.53" y2="90.51" stroke="#111" stroke-width="1.05"/>
<line x1="305.40" y1="85.24" x2="308.80" y2="85.24" stroke="#111" stroke-width="1.05"/>
<line x1="513.70" y1="85.24" x2="511.15" y2="85.24" stroke="#111" stroke-width="1.05"/>
<line x1="305.40" y1="79.97" x2="308.80" y2="79.97" stroke="#111" stroke-width="1.05"/>
<line x1="513.70" y1="79.97" x2="511.15" y2="79.97" stroke="#111" stroke-width="1.05"/>
<line x1="305.40" y1="74.69" x2="308.80" y2="74.69" stroke="#111" stroke-width="1.05"/>
<line x1="513.70" y1="74.69" x2="511.15" y2="74.69" stroke="#111" stroke-width="1.05"/>
<line x1="305.40" y1="69.42" x2="308.80" y2="69.42" stroke="#111" stroke-width="1.05"/>
<line x1="513.70" y1="69.42" x2="511.15" y2="69.42" stroke="#111" stroke-width="1.05"/>
<line x1="305.40" y1="64.14" x2="312.30" y2="64.14" stroke="#111" stroke-width="1.05"/>
<line x1="513.70" y1="64.14" x2="508.53" y2="64.14" stroke="#111" stroke-width="1.05"/>
<line x1="305.40" y1="58.87" x2="308.80" y2="58.87" stroke="#111" stroke-width="1.05"/>
<line x1="513.70" y1="58.87" x2="511.15" y2="58.87" stroke="#111" stroke-width="1.05"/>
<line x1="305.40" y1="53.59" x2="308.80" y2="53.59" stroke="#111" stroke-width="1.05"/>
<line x1="513.70" y1="53.59" x2="511.15" y2="53.59" stroke="#111" stroke-width="1.05"/>
<line x1="305.40" y1="48.32" x2="308.80" y2="48.32" stroke="#111" stroke-width="1.05"/>
<line x1="513.70" y1="48.32" x2="511.15" y2="48.32" stroke="#111" stroke-width="1.05"/>
<line x1="305.40" y1="43.05" x2="308.80" y2="43.05" stroke="#111" stroke-width="1.05"/>
<line x1="513.70" y1="43.05" x2="511.15" y2="43.05" stroke="#111" stroke-width="1.05"/>
<line x1="305.40" y1="37.77" x2="312.30" y2="37.77" stroke="#111" stroke-width="1.05"/>
<line x1="513.70" y1="37.77" x2="508.53" y2="37.77" stroke="#111" stroke-width="1.05"/>
<line x1="305.40" y1="32.50" x2="308.80" y2="32.50" stroke="#111" stroke-width="1.05"/>
<line x1="513.70" y1="32.50" x2="511.15" y2="32.50" stroke="#111" stroke-width="1.05"/>
<line x1="305.40" y1="27.22" x2="308.80" y2="27.22" stroke="#111" stroke-width="1.05"/>
<line x1="513.70" y1="27.22" x2="511.15" y2="27.22" stroke="#111" stroke-width="1.05"/>
<line x1="305.40" y1="21.95" x2="308.80" y2="21.95" stroke="#111" stroke-width="1.05"/>
<line x1="513.70" y1="21.95" x2="511.15" y2="21.95" stroke="#111" stroke-width="1.05"/>
<line x1="305.40" y1="16.67" x2="308.80" y2="16.67" stroke="#111" stroke-width="1.05"/>
<line x1="513.70" y1="16.67" x2="511.15" y2="16.67" stroke="#111" stroke-width="1.05"/>
<line x1="305.40" y1="11.40" x2="312.30" y2="11.40" stroke="#111" stroke-width="1.05"/>
<line x1="513.70" y1="11.40" x2="508.53" y2="11.40" stroke="#111" stroke-width="1.05"/>
<text transform="translate(298.40 200.67) scale(0.985 1)" font-size="12.8" text-anchor="end">0</text>
<text transform="translate(298.40 174.30) scale(0.985 1)" font-size="12.8" text-anchor="end">200</text>
<text transform="translate(298.40 147.93) scale(0.985 1)" font-size="12.8" text-anchor="end">400</text>
<text transform="translate(298.40 121.56) scale(0.985 1)" font-size="12.8" text-anchor="end">600</text>
<text transform="translate(298.40 95.19) scale(0.985 1)" font-size="12.8" text-anchor="end">800</text>
<text transform="translate(298.40 68.81) scale(0.985 1)" font-size="12.8" text-anchor="end">1000</text>
<text transform="translate(298.40 42.44) scale(0.985 1)" font-size="12.8" text-anchor="end">1200</text>
<text transform="translate(298.40 16.07) scale(0.985 1)" font-size="12.8" text-anchor="end">1400</text>
<line x1="305.40" y1="196.00" x2="305.40" y2="203.30" stroke="#111" stroke-width="1.05"/>
<line x1="320.70" y1="196.00" x2="320.70" y2="203.30" stroke="#111" stroke-width="1.05"/>
<line x1="336.78" y1="196.00" x2="336.78" y2="203.30" stroke="#111" stroke-width="1.05"/>
<line x1="352.87" y1="196.00" x2="352.87" y2="203.30" stroke="#111" stroke-width="1.05"/>
<line x1="368.95" y1="196.00" x2="368.95" y2="203.30" stroke="#111" stroke-width="1.05"/>
<line x1="385.03" y1="196.00" x2="385.03" y2="203.30" stroke="#111" stroke-width="1.05"/>
<line x1="401.12" y1="196.00" x2="401.12" y2="203.30" stroke="#111" stroke-width="1.05"/>
<line x1="417.20" y1="196.00" x2="417.20" y2="203.30" stroke="#111" stroke-width="1.05"/>
<line x1="433.28" y1="196.00" x2="433.28" y2="203.30" stroke="#111" stroke-width="1.05"/>
<line x1="449.37" y1="196.00" x2="449.37" y2="203.30" stroke="#111" stroke-width="1.05"/>
<line x1="465.45" y1="196.00" x2="465.45" y2="203.30" stroke="#111" stroke-width="1.05"/>
<line x1="481.53" y1="196.00" x2="481.53" y2="203.30" stroke="#111" stroke-width="1.05"/>
<line x1="497.62" y1="196.00" x2="497.62" y2="203.30" stroke="#111" stroke-width="1.05"/>
<line x1="513.70" y1="196.00" x2="513.70" y2="203.30" stroke="#111" stroke-width="1.05"/>
<text x="400.4" y="35.8" font-size="16.5" font-weight="bold" textLength="93.4" lengthAdjust="spacingAndGlyphs" xml:space="preserve" style="white-space:pre">F.  Platelets</text>
<text transform="translate(269.7 113.6) rotate(-90)" font-size="13.3" text-anchor="middle" textLength="103.2" lengthAdjust="spacingAndGlyphs">Platelets x 10<tspan dy="-4.5" font-size="9">6</tspan><tspan dy="4.5">/µl</tspan></text>
<path d="M60.08 394.20V465.60M63.42 394.20V465.60M56.75 462.10H66.75M56.75 458.60H66.75M56.75 455.10H66.75M56.75 451.60H66.75M56.75 448.10H66.75M56.75 444.60H66.75M56.75 441.10H66.75M56.75 437.60H66.75M56.75 434.10H66.75M56.75 430.60H66.75M56.75 427.10H66.75M56.75 423.60H66.75M56.75 420.10H66.75M56.75 416.60H66.75M56.75 413.10H66.75M56.75 409.60H66.75M56.75 406.10H66.75M56.75 402.60H66.75M56.75 399.10H66.75M56.75 395.60H66.75" stroke="#111" stroke-width="0.92" fill="none"/>
<rect x="56.75" y="394.20" width="10.00" height="71.40" fill="none" stroke="#111" stroke-width="1.25"/>
<line x1="61.75" y1="375.50" x2="61.75" y2="394.20" stroke="#111" stroke-width="1.0"/>
<line x1="58.15" y1="375.50" x2="65.35" y2="375.50" stroke="#111" stroke-width="1.0"/>
<path d="M76.12 375.70V465.60M79.46 375.70V465.60M72.79 462.10H82.79M72.79 458.60H82.79M72.79 455.10H82.79M72.79 451.60H82.79M72.79 448.10H82.79M72.79 444.60H82.79M72.79 441.10H82.79M72.79 437.60H82.79M72.79 434.10H82.79M72.79 430.60H82.79M72.79 427.10H82.79M72.79 423.60H82.79M72.79 420.10H82.79M72.79 416.60H82.79M72.79 413.10H82.79M72.79 409.60H82.79M72.79 406.10H82.79M72.79 402.60H82.79M72.79 399.10H82.79M72.79 395.60H82.79M72.79 392.10H82.79M72.79 388.60H82.79M72.79 385.10H82.79M72.79 381.60H82.79M72.79 378.10H82.79" stroke="#111" stroke-width="0.92" fill="none"/>
<rect x="72.79" y="375.70" width="10.00" height="89.90" fill="none" stroke="#111" stroke-width="1.25"/>
<line x1="77.79" y1="362.00" x2="77.79" y2="375.70" stroke="#111" stroke-width="1.0"/>
<line x1="74.19" y1="362.00" x2="81.39" y2="362.00" stroke="#111" stroke-width="1.0"/>
<path d="M92.17 374.20V465.60M95.50 374.20V465.60M88.83 462.10H98.83M88.83 458.60H98.83M88.83 455.10H98.83M88.83 451.60H98.83M88.83 448.10H98.83M88.83 444.60H98.83M88.83 441.10H98.83M88.83 437.60H98.83M88.83 434.10H98.83M88.83 430.60H98.83M88.83 427.10H98.83M88.83 423.60H98.83M88.83 420.10H98.83M88.83 416.60H98.83M88.83 413.10H98.83M88.83 409.60H98.83M88.83 406.10H98.83M88.83 402.60H98.83M88.83 399.10H98.83M88.83 395.60H98.83M88.83 392.10H98.83M88.83 388.60H98.83M88.83 385.10H98.83M88.83 381.60H98.83M88.83 378.10H98.83" stroke="#111" stroke-width="0.92" fill="none"/>
<rect x="88.83" y="374.20" width="10.00" height="91.40" fill="none" stroke="#111" stroke-width="1.25"/>
<path d="M108.21 383.00V465.60M111.54 383.00V465.60M104.88 462.10H114.88M104.88 458.60H114.88M104.88 455.10H114.88M104.88 451.60H114.88M104.88 448.10H114.88M104.88 444.60H114.88M104.88 441.10H114.88M104.88 437.60H114.88M104.88 434.10H114.88M104.88 430.60H114.88M104.88 427.10H114.88M104.88 423.60H114.88M104.88 420.10H114.88M104.88 416.60H114.88M104.88 413.10H114.88M104.88 409.60H114.88M104.88 406.10H114.88M104.88 402.60H114.88M104.88 399.10H114.88M104.88 395.60H114.88M104.88 392.10H114.88M104.88 388.60H114.88M104.88 385.10H114.88" stroke="#111" stroke-width="0.92" fill="none"/>
<rect x="104.88" y="383.00" width="10.00" height="82.60" fill="none" stroke="#111" stroke-width="1.25"/>
<line x1="109.88" y1="346.20" x2="109.88" y2="383.00" stroke="#111" stroke-width="1.0"/>
<line x1="106.28" y1="346.20" x2="113.47" y2="346.20" stroke="#111" stroke-width="1.0"/>
<path d="M124.25 387.00V465.60M127.58 387.00V465.60M120.92 462.10H130.92M120.92 458.60H130.92M120.92 455.10H130.92M120.92 451.60H130.92M120.92 448.10H130.92M120.92 444.60H130.92M120.92 441.10H130.92M120.92 437.60H130.92M120.92 434.10H130.92M120.92 430.60H130.92M120.92 427.10H130.92M120.92 423.60H130.92M120.92 420.10H130.92M120.92 416.60H130.92M120.92 413.10H130.92M120.92 409.60H130.92M120.92 406.10H130.92M120.92 402.60H130.92M120.92 399.10H130.92M120.92 395.60H130.92M120.92 392.10H130.92M120.92 388.60H130.92" stroke="#111" stroke-width="0.92" fill="none"/>
<rect x="120.92" y="387.00" width="10.00" height="78.60" fill="none" stroke="#111" stroke-width="1.25"/>
<line x1="125.92" y1="363.20" x2="125.92" y2="387.00" stroke="#111" stroke-width="1.0"/>
<line x1="122.32" y1="363.20" x2="129.52" y2="363.20" stroke="#111" stroke-width="1.0"/>
<path d="M140.29 380.00V465.60M143.63 380.00V465.60M136.96 462.10H146.96M136.96 458.60H146.96M136.96 455.10H146.96M136.96 451.60H146.96M136.96 448.10H146.96M136.96 444.60H146.96M136.96 441.10H146.96M136.96 437.60H146.96M136.96 434.10H146.96M136.96 430.60H146.96M136.96 427.10H146.96M136.96 423.60H146.96M136.96 420.10H146.96M136.96 416.60H146.96M136.96 413.10H146.96M136.96 409.60H146.96M136.96 406.10H146.96M136.96 402.60H146.96M136.96 399.10H146.96M136.96 395.60H146.96M136.96 392.10H146.96M136.96 388.60H146.96M136.96 385.10H146.96M136.96 381.60H146.96" stroke="#111" stroke-width="0.92" fill="none"/>
<rect x="136.96" y="380.00" width="10.00" height="85.60" fill="none" stroke="#111" stroke-width="1.25"/>
<line x1="141.96" y1="367.50" x2="141.96" y2="380.00" stroke="#111" stroke-width="1.0"/>
<line x1="138.36" y1="367.50" x2="145.56" y2="367.50" stroke="#111" stroke-width="1.0"/>
<path d="M156.33 386.20V465.60M159.67 386.20V465.60M153.00 462.10H163.00M153.00 458.60H163.00M153.00 455.10H163.00M153.00 451.60H163.00M153.00 448.10H163.00M153.00 444.60H163.00M153.00 441.10H163.00M153.00 437.60H163.00M153.00 434.10H163.00M153.00 430.60H163.00M153.00 427.10H163.00M153.00 423.60H163.00M153.00 420.10H163.00M153.00 416.60H163.00M153.00 413.10H163.00M153.00 409.60H163.00M153.00 406.10H163.00M153.00 402.60H163.00M153.00 399.10H163.00M153.00 395.60H163.00M153.00 392.10H163.00M153.00 388.60H163.00" stroke="#111" stroke-width="0.92" fill="none"/>
<rect x="153.00" y="386.20" width="10.00" height="79.40" fill="none" stroke="#111" stroke-width="1.25"/>
<line x1="158.00" y1="353.00" x2="158.00" y2="386.20" stroke="#111" stroke-width="1.0"/>
<line x1="154.40" y1="353.00" x2="161.60" y2="353.00" stroke="#111" stroke-width="1.0"/>
<path d="M172.38 387.00V465.60M175.71 387.00V465.60M169.04 462.10H179.04M169.04 458.60H179.04M169.04 455.10H179.04M169.04 451.60H179.04M169.04 448.10H179.04M169.04 444.60H179.04M169.04 441.10H179.04M169.04 437.60H179.04M169.04 434.10H179.04M169.04 430.60H179.04M169.04 427.10H179.04M169.04 423.60H179.04M169.04 420.10H179.04M169.04 416.60H179.04M169.04 413.10H179.04M169.04 409.60H179.04M169.04 406.10H179.04M169.04 402.60H179.04M169.04 399.10H179.04M169.04 395.60H179.04M169.04 392.10H179.04M169.04 388.60H179.04" stroke="#111" stroke-width="0.92" fill="none"/>
<rect x="169.04" y="387.00" width="10.00" height="78.60" fill="none" stroke="#111" stroke-width="1.25"/>
<line x1="174.04" y1="378.20" x2="174.04" y2="387.00" stroke="#111" stroke-width="1.0"/>
<line x1="170.44" y1="378.20" x2="177.64" y2="378.20" stroke="#111" stroke-width="1.0"/>
<path d="M188.42 403.70V465.60M191.75 403.70V465.60M185.08 462.10H195.08M185.08 458.60H195.08M185.08 455.10H195.08M185.08 451.60H195.08M185.08 448.10H195.08M185.08 444.60H195.08M185.08 441.10H195.08M185.08 437.60H195.08M185.08 434.10H195.08M185.08 430.60H195.08M185.08 427.10H195.08M185.08 423.60H195.08M185.08 420.10H195.08M185.08 416.60H195.08M185.08 413.10H195.08M185.08 409.60H195.08M185.08 406.10H195.08" stroke="#111" stroke-width="0.92" fill="none"/>
<rect x="185.08" y="403.70" width="10.00" height="61.90" fill="none" stroke="#111" stroke-width="1.25"/>
<path d="M204.46 411.20V465.60M207.79 411.20V465.60M201.12 462.10H211.12M201.12 458.60H211.12M201.12 455.10H211.12M201.12 451.60H211.12M201.12 448.10H211.12M201.12 444.60H211.12M201.12 441.10H211.12M201.12 437.60H211.12M201.12 434.10H211.12M201.12 430.60H211.12M201.12 427.10H211.12M201.12 423.60H211.12M201.12 420.10H211.12M201.12 416.60H211.12M201.12 413.10H211.12" stroke="#111" stroke-width="0.92" fill="none"/>
<rect x="201.12" y="411.20" width="10.00" height="54.40" fill="none" stroke="#111" stroke-width="1.25"/>
<line x1="206.12" y1="401.70" x2="206.12" y2="411.20" stroke="#111" stroke-width="1.0"/>
<line x1="202.53" y1="401.70" x2="209.72" y2="401.70" stroke="#111" stroke-width="1.0"/>
<path d="M220.50 424.20V465.60M223.83 424.20V465.60M217.17 462.10H227.17M217.17 458.60H227.17M217.17 455.10H227.17M217.17 451.60H227.17M217.17 448.10H227.17M217.17 444.60H227.17M217.17 441.10H227.17M217.17 437.60H227.17M217.17 434.10H227.17M217.17 430.60H227.17M217.17 427.10H227.17" stroke="#111" stroke-width="0.92" fill="none"/>
<rect x="217.17" y="424.20" width="10.00" height="41.40" fill="none" stroke="#111" stroke-width="1.25"/>
<path d="M236.54 409.50V465.60M239.88 409.50V465.60M233.21 462.10H243.21M233.21 458.60H243.21M233.21 455.10H243.21M233.21 451.60H243.21M233.21 448.10H243.21M233.21 444.60H243.21M233.21 441.10H243.21M233.21 437.60H243.21M233.21 434.10H243.21M233.21 430.60H243.21M233.21 427.10H243.21M233.21 423.60H243.21M233.21 420.10H243.21M233.21 416.60H243.21M233.21 413.10H243.21" stroke="#111" stroke-width="0.92" fill="none"/>
<rect x="233.21" y="409.50" width="10.00" height="56.10" fill="none" stroke="#111" stroke-width="1.25"/>
<line x1="238.21" y1="379.50" x2="238.21" y2="409.50" stroke="#111" stroke-width="1.0"/>
<line x1="234.61" y1="379.50" x2="241.81" y2="379.50" stroke="#111" stroke-width="1.0"/>
<rect x="45.10" y="260.50" width="208.60" height="205.10" fill="none" stroke="#111" stroke-width="1.15"/>
<line x1="45.10" y1="465.60" x2="52.00" y2="465.60" stroke="#111" stroke-width="1.05"/>
<line x1="253.70" y1="465.60" x2="248.52" y2="465.60" stroke="#111" stroke-width="1.05"/>
<line x1="45.10" y1="438.25" x2="48.50" y2="438.25" stroke="#111" stroke-width="1.05"/>
<line x1="253.70" y1="438.25" x2="251.15" y2="438.25" stroke="#111" stroke-width="1.05"/>
<line x1="45.10" y1="410.91" x2="48.50" y2="410.91" stroke="#111" stroke-width="1.05"/>
<line x1="253.70" y1="410.91" x2="251.15" y2="410.91" stroke="#111" stroke-width="1.05"/>
<line x1="45.10" y1="383.56" x2="48.50" y2="383.56" stroke="#111" stroke-width="1.05"/>
<line x1="253.70" y1="383.56" x2="251.15" y2="383.56" stroke="#111" stroke-width="1.05"/>
<line x1="45.10" y1="356.21" x2="48.50" y2="356.21" stroke="#111" stroke-width="1.05"/>
<line x1="253.70" y1="356.21" x2="251.15" y2="356.21" stroke="#111" stroke-width="1.05"/>
<line x1="45.10" y1="328.87" x2="52.00" y2="328.87" stroke="#111" stroke-width="1.05"/>
<line x1="253.70" y1="328.87" x2="248.52" y2="328.87" stroke="#111" stroke-width="1.05"/>
<line x1="45.10" y1="301.52" x2="48.50" y2="301.52" stroke="#111" stroke-width="1.05"/>
<line x1="253.70" y1="301.52" x2="251.15" y2="301.52" stroke="#111" stroke-width="1.05"/>
<line x1="45.10" y1="274.17" x2="48.50" y2="274.17" stroke="#111" stroke-width="1.05"/>
<line x1="253.70" y1="274.17" x2="251.15" y2="274.17" stroke="#111" stroke-width="1.05"/>
<text transform="translate(38.30 470.71) scale(0.985 1)" font-size="14" text-anchor="end">8</text>
<text transform="translate(38.30 333.98) scale(0.985 1)" font-size="14" text-anchor="end">10</text>
<line x1="45.10" y1="465.60" x2="45.10" y2="472.90" stroke="#111" stroke-width="1.05"/>
<line x1="61.20" y1="465.60" x2="61.20" y2="472.90" stroke="#111" stroke-width="1.05"/>
<line x1="77.24" y1="465.60" x2="77.24" y2="472.90" stroke="#111" stroke-width="1.05"/>
<line x1="93.28" y1="465.60" x2="93.28" y2="472.90" stroke="#111" stroke-width="1.05"/>
<line x1="109.33" y1="465.60" x2="109.33" y2="472.90" stroke="#111" stroke-width="1.05"/>
<line x1="125.37" y1="465.60" x2="125.37" y2="472.90" stroke="#111" stroke-width="1.05"/>
<line x1="141.41" y1="465.60" x2="141.41" y2="472.90" stroke="#111" stroke-width="1.05"/>
<line x1="157.45" y1="465.60" x2="157.45" y2="472.90" stroke="#111" stroke-width="1.05"/>
<line x1="173.49" y1="465.60" x2="173.49" y2="472.90" stroke="#111" stroke-width="1.05"/>
<line x1="189.53" y1="465.60" x2="189.53" y2="472.90" stroke="#111" stroke-width="1.05"/>
<line x1="205.57" y1="465.60" x2="205.57" y2="472.90" stroke="#111" stroke-width="1.05"/>
<line x1="221.62" y1="465.60" x2="221.62" y2="472.90" stroke="#111" stroke-width="1.05"/>
<line x1="237.66" y1="465.60" x2="237.66" y2="472.90" stroke="#111" stroke-width="1.05"/>
<line x1="253.70" y1="465.60" x2="253.70" y2="472.90" stroke="#111" stroke-width="1.05"/>
<text x="59.2" y="288.1" font-size="16.5" font-weight="bold" textLength="64.6" lengthAdjust="spacingAndGlyphs" xml:space="preserve" style="white-space:pre">G.  RBC</text>
<text transform="translate(29.3 378.1) rotate(-90)" font-size="13.3" text-anchor="middle" textLength="73.8" lengthAdjust="spacingAndGlyphs">RBC x10<tspan dy="-4.5" font-size="9">6</tspan><tspan dy="4.5">/µl</tspan></text>
<text transform="translate(65.30 479.70) rotate(-90)" font-size="13.4" text-anchor="end">Control</text>
<text transform="translate(81.34 479.70) rotate(-90)" font-size="13.4" text-anchor="end">FL(10)</text>
<text transform="translate(97.38 479.70) rotate(-90)" font-size="13.4" text-anchor="end">FL(50)</text>
<text transform="translate(113.42 479.70) rotate(-90)" font-size="13.4" text-anchor="end">FL(100)</text>
<text transform="translate(129.47 479.70) rotate(-90)" font-size="13.4" text-anchor="end">G(10)</text>
<text transform="translate(145.51 479.70) rotate(-90)" font-size="13.4" text-anchor="end">G(50)</text>
<text transform="translate(161.55 479.70) rotate(-90)" font-size="13.4" text-anchor="end">G(100)</text>
<text transform="translate(177.59 479.70) rotate(-90)" font-size="13.4" text-anchor="end">G(100)+FL(10)</text>
<text transform="translate(193.63 479.70) rotate(-90)" font-size="13.4" text-anchor="end">G(100) + FL (50</text>
<text transform="translate(209.67 479.70) rotate(-90)" font-size="13.4" text-anchor="end">G(100) + FL(100</text>
<text transform="translate(225.72 479.70) rotate(-90)" font-size="13.4" text-anchor="end">G(50) + FL(100)</text>
<text transform="translate(241.76 479.70) rotate(-90)" font-size="13.4" text-anchor="end">G(10) + FL(100)</text>
<path d="M316.68 428.00V431.23M320.02 428.00V431.23" stroke="#111" stroke-width="0.92" fill="none"/>
<rect x="313.35" y="428.00" width="10.00" height="3.23" fill="none" stroke="#111" stroke-width="1.25"/>
<path d="M332.83 428.00V431.23M336.17 428.00V431.23" stroke="#111" stroke-width="0.92" fill="none"/>
<rect x="329.50" y="428.00" width="10.00" height="3.23" fill="none" stroke="#111" stroke-width="1.25"/>
<path d="M348.98 428.00V431.23M352.32 428.00V431.23" stroke="#111" stroke-width="0.92" fill="none"/>
<rect x="345.65" y="428.00" width="10.00" height="3.23" fill="none" stroke="#111" stroke-width="1.25"/>
<path d="M365.13 426.70V431.23M368.47 426.70V431.23M361.80 427.73H371.80" stroke="#111" stroke-width="0.92" fill="none"/>
<rect x="361.80" y="426.70" width="10.00" height="4.53" fill="none" stroke="#111" stroke-width="1.25"/>
<line x1="366.80" y1="423.70" x2="366.80" y2="426.70" stroke="#111" stroke-width="1.0"/>
<line x1="363.20" y1="423.70" x2="370.40" y2="423.70" stroke="#111" stroke-width="1.0"/>
<path d="M381.28 426.70V431.23M384.62 426.70V431.23M377.95 427.73H387.95" stroke="#111" stroke-width="0.92" fill="none"/>
<rect x="377.95" y="426.70" width="10.00" height="4.53" fill="none" stroke="#111" stroke-width="1.25"/>
<line x1="382.95" y1="422.50" x2="382.95" y2="426.70" stroke="#111" stroke-width="1.0"/>
<line x1="379.35" y1="422.50" x2="386.55" y2="422.50" stroke="#111" stroke-width="1.0"/>
<path d="M397.43 414.50V431.23M400.77 414.50V431.23M394.10 427.73H404.10M394.10 424.23H404.10M394.10 420.73H404.10M394.10 417.23H404.10" stroke="#111" stroke-width="0.92" fill="none"/>
<rect x="394.10" y="414.50" width="10.00" height="16.73" fill="none" stroke="#111" stroke-width="1.25"/>
<path d="M413.58 411.20V431.23M416.92 411.20V431.23M410.25 427.73H420.25M410.25 424.23H420.25M410.25 420.73H420.25M410.25 417.23H420.25M410.25 413.73H420.25" stroke="#111" stroke-width="0.92" fill="none"/>
<rect x="410.25" y="411.20" width="10.00" height="20.03" fill="none" stroke="#111" stroke-width="1.25"/>
<line x1="415.25" y1="403.00" x2="415.25" y2="411.20" stroke="#111" stroke-width="1.0"/>
<line x1="411.65" y1="403.00" x2="418.85" y2="403.00" stroke="#111" stroke-width="1.0"/>
<path d="M429.73 382.00V431.23M433.07 382.00V431.23M426.40 427.73H436.40M426.40 424.23H436.40M426.40 420.73H436.40M426.40 417.23H436.40M426.40 413.73H436.40M426.40 410.23H436.40M426.40 406.73H436.40M426.40 403.23H436.40M426.40 399.73H436.40M426.40 396.23H436.40M426.40 392.73H436.40M426.40 389.23H436.40M426.40 385.73H436.40" stroke="#111" stroke-width="0.92" fill="none"/>
<rect x="426.40" y="382.00" width="10.00" height="49.23" fill="none" stroke="#111" stroke-width="1.25"/>
<line x1="431.40" y1="367.50" x2="431.40" y2="382.00" stroke="#111" stroke-width="1.0"/>
<line x1="427.80" y1="367.50" x2="435.00" y2="367.50" stroke="#111" stroke-width="1.0"/>
<path d="M445.88 300.70V431.23M449.22 300.70V431.23M442.55 427.73H452.55M442.55 424.23H452.55M442.55 420.73H452.55M442.55 417.23H452.55M442.55 413.73H452.55M442.55 410.23H452.55M442.55 406.73H452.55M442.55 403.23H452.55M442.55 399.73H452.55M442.55 396.23H452.55M442.55 392.73H452.55M442.55 389.23H452.55M442.55 385.73H452.55M442.55 382.23H452.55M442.55 378.73H452.55M442.55 375.23H452.55M442.55 371.73H452.55M442.55 368.23H452.55M442.55 364.73H452.55M442.55 361.23H452.55M442.55 357.73H452.55M442.55 354.23H452.55M442.55 350.73H452.55M442.55 347.23H452.55M442.55 343.73H452.55M442.55 340.23H452.55M442.55 336.73H452.55M442.55 333.23H452.55M442.55 329.73H452.55M442.55 326.23H452.55M442.55 322.73H452.55M442.55 319.23H452.55M442.55 315.73H452.55M442.55 312.23H452.55M442.55 308.73H452.55M442.55 305.23H452.55M442.55 301.73H452.55" stroke="#111" stroke-width="0.92" fill="none"/>
<rect x="442.55" y="300.70" width="10.00" height="130.53" fill="none" stroke="#111" stroke-width="1.25"/>
<path d="M462.03 340.50V431.23M465.37 340.50V431.23M458.70 427.73H468.70M458.70 424.23H468.70M458.70 420.73H468.70M458.70 417.23H468.70M458.70 413.73H468.70M458.70 410.23H468.70M458.70 406.73H468.70M458.70 403.23H468.70M458.70 399.73H468.70M458.70 396.23H468.70M458.70 392.73H468.70M458.70 389.23H468.70M458.70 385.73H468.70M458.70 382.23H468.70M458.70 378.73H468.70M458.70 375.23H468.70M458.70 371.73H468.70M458.70 368.23H468.70M458.70 364.73H468.70M458.70 361.23H468.70M458.70 357.73H468.70M458.70 354.23H468.70M458.70 350.73H468.70M458.70 347.23H468.70M458.70 343.73H468.70" stroke="#111" stroke-width="0.92" fill="none"/>
<rect x="458.70" y="340.50" width="10.00" height="90.73" fill="none" stroke="#111" stroke-width="1.25"/>
<line x1="463.70" y1="295.50" x2="463.70" y2="340.50" stroke="#111" stroke-width="1.0"/>
<line x1="460.10" y1="295.50" x2="467.30" y2="295.50" stroke="#111" stroke-width="1.0"/>
<path d="M478.18 359.20V431.23M481.52 359.20V431.23M474.85 427.73H484.85M474.85 424.23H484.85M474.85 420.73H484.85M474.85 417.23H484.85M474.85 413.73H484.85M474.85 410.23H484.85M474.85 406.73H484.85M474.85 403.23H484.85M474.85 399.73H484.85M474.85 396.23H484.85M474.85 392.73H484.85M474.85 389.23H484.85M474.85 385.73H484.85M474.85 382.23H484.85M474.85 378.73H484.85M474.85 375.23H484.85M474.85 371.73H484.85M474.85 368.23H484.85M474.85 364.73H484.85M474.85 361.23H484.85" stroke="#111" stroke-width="0.92" fill="none"/>
<rect x="474.85" y="359.20" width="10.00" height="72.03" fill="none" stroke="#111" stroke-width="1.25"/>
<path d="M494.33 402.00V431.23M497.67 402.00V431.23M491.00 427.73H501.00M491.00 424.23H501.00M491.00 420.73H501.00M491.00 417.23H501.00M491.00 413.73H501.00M491.00 410.23H501.00M491.00 406.73H501.00M491.00 403.23H501.00" stroke="#111" stroke-width="0.92" fill="none"/>
<rect x="491.00" y="402.00" width="10.00" height="29.23" fill="none" stroke="#111" stroke-width="1.25"/>
<line x1="496.00" y1="357.50" x2="496.00" y2="402.00" stroke="#111" stroke-width="1.0"/>
<line x1="492.40" y1="357.50" x2="499.60" y2="357.50" stroke="#111" stroke-width="1.0"/>
<text x="393.66" y="415.12" font-size="7.9" font-weight="bold" letter-spacing="1.23" style="stroke-width:0.35px">***</text>
<text x="430.26" y="366.42" font-size="7.9" font-weight="bold" letter-spacing="1.23" style="stroke-width:0.35px">*</text>
<text x="442.11" y="299.92" font-size="7.9" font-weight="bold" letter-spacing="1.23" style="stroke-width:0.35px">***</text>
<rect x="301.80" y="261.20" width="209.80" height="208.80" fill="none" stroke="#111" stroke-width="1.2"/>
<line x1="301.80" y1="431.23" x2="511.60" y2="431.23" stroke="#111" stroke-width="1.1"/>
<line x1="301.80" y1="465.24" x2="305.20" y2="465.24" stroke="#111" stroke-width="1.05"/>
<line x1="511.60" y1="465.24" x2="509.05" y2="465.24" stroke="#111" stroke-width="1.05"/>
<line x1="301.80" y1="456.74" x2="305.20" y2="456.74" stroke="#111" stroke-width="1.05"/>
<line x1="511.60" y1="456.74" x2="509.05" y2="456.74" stroke="#111" stroke-width="1.05"/>
<line x1="301.80" y1="448.24" x2="305.20" y2="448.24" stroke="#111" stroke-width="1.05"/>
<line x1="511.60" y1="448.24" x2="509.05" y2="448.24" stroke="#111" stroke-width="1.05"/>
<line x1="301.80" y1="439.73" x2="305.20" y2="439.73" stroke="#111" stroke-width="1.05"/>
<line x1="511.60" y1="439.73" x2="509.05" y2="439.73" stroke="#111" stroke-width="1.05"/>
<line x1="301.80" y1="431.23" x2="308.70" y2="431.23" stroke="#111" stroke-width="1.05"/>
<line x1="511.60" y1="431.23" x2="506.43" y2="431.23" stroke="#111" stroke-width="1.05"/>
<line x1="301.80" y1="422.73" x2="305.20" y2="422.73" stroke="#111" stroke-width="1.05"/>
<line x1="511.60" y1="422.73" x2="509.05" y2="422.73" stroke="#111" stroke-width="1.05"/>
<line x1="301.80" y1="414.23" x2="305.20" y2="414.23" stroke="#111" stroke-width="1.05"/>
<line x1="511.60" y1="414.23" x2="509.05" y2="414.23" stroke="#111" stroke-width="1.05"/>
<line x1="301.80" y1="405.73" x2="305.20" y2="405.73" stroke="#111" stroke-width="1.05"/>
<line x1="511.60" y1="405.73" x2="509.05" y2="405.73" stroke="#111" stroke-width="1.05"/>
<line x1="301.80" y1="397.23" x2="305.20" y2="397.23" stroke="#111" stroke-width="1.05"/>
<line x1="511.60" y1="397.23" x2="509.05" y2="397.23" stroke="#111" stroke-width="1.05"/>
<line x1="301.80" y1="388.72" x2="308.70" y2="388.72" stroke="#111" stroke-width="1.05"/>
<line x1="511.60" y1="388.72" x2="506.43" y2="388.72" stroke="#111" stroke-width="1.05"/>
<line x1="301.80" y1="380.22" x2="305.20" y2="380.22" stroke="#111" stroke-width="1.05"/>
<line x1="511.60" y1="380.22" x2="509.05" y2="380.22" stroke="#111" stroke-width="1.05"/>
<line x1="301.80" y1="371.72" x2="305.20" y2="371.72" stroke="#111" stroke-width="1.05"/>
<line x1="511.60" y1="371.72" x2="509.05" y2="371.72" stroke="#111" stroke-width="1.05"/>
<line x1="301.80" y1="363.22" x2="305.20" y2="363.22" stroke="#111" stroke-width="1.05"/>
<line x1="511.60" y1="363.22" x2="509.05" y2="363.22" stroke="#111" stroke-width="1.05"/>
<line x1="301.80" y1="354.72" x2="305.20" y2="354.72" stroke="#111" stroke-width="1.05"/>
<line x1="511.60" y1="354.72" x2="509.05" y2="354.72" stroke="#111" stroke-width="1.05"/>
<line x1="301.80" y1="346.22" x2="308.70" y2="346.22" stroke="#111" stroke-width="1.05"/>
<line x1="511.60" y1="346.22" x2="506.43" y2="346.22" stroke="#111" stroke-width="1.05"/>
<line x1="301.80" y1="337.71" x2="305.20" y2="337.71" stroke="#111" stroke-width="1.05"/>
<line x1="511.60" y1="337.71" x2="509.05" y2="337.71" stroke="#111" stroke-width="1.05"/>
<line x1="301.80" y1="329.21" x2="305.20" y2="329.21" stroke="#111" stroke-width="1.05"/>
<line x1="511.60" y1="329.21" x2="509.05" y2="329.21" stroke="#111" stroke-width="1.05"/>
<line x1="301.80" y1="320.71" x2="305.20" y2="320.71" stroke="#111" stroke-width="1.05"/>
<line x1="511.60" y1="320.71" x2="509.05" y2="320.71" stroke="#111" stroke-width="1.05"/>
<line x1="301.80" y1="312.21" x2="305.20" y2="312.21" stroke="#111" stroke-width="1.05"/>
<line x1="511.60" y1="312.21" x2="509.05" y2="312.21" stroke="#111" stroke-width="1.05"/>
<line x1="301.80" y1="303.71" x2="308.70" y2="303.71" stroke="#111" stroke-width="1.05"/>
<line x1="511.60" y1="303.71" x2="506.43" y2="303.71" stroke="#111" stroke-width="1.05"/>
<line x1="301.80" y1="295.21" x2="305.20" y2="295.21" stroke="#111" stroke-width="1.05"/>
<line x1="511.60" y1="295.21" x2="509.05" y2="295.21" stroke="#111" stroke-width="1.05"/>
<line x1="301.80" y1="286.70" x2="305.20" y2="286.70" stroke="#111" stroke-width="1.05"/>
<line x1="511.60" y1="286.70" x2="509.05" y2="286.70" stroke="#111" stroke-width="1.05"/>
<line x1="301.80" y1="278.20" x2="305.20" y2="278.20" stroke="#111" stroke-width="1.05"/>
<line x1="511.60" y1="278.20" x2="509.05" y2="278.20" stroke="#111" stroke-width="1.05"/>
<line x1="301.80" y1="269.70" x2="305.20" y2="269.70" stroke="#111" stroke-width="1.05"/>
<line x1="511.60" y1="269.70" x2="509.05" y2="269.70" stroke="#111" stroke-width="1.05"/>
<line x1="301.80" y1="261.20" x2="308.70" y2="261.20" stroke="#111" stroke-width="1.05"/>
<line x1="511.60" y1="261.20" x2="506.43" y2="261.20" stroke="#111" stroke-width="1.05"/>
<text transform="translate(295.00 435.90) scale(0.985 1)" font-size="12.8" text-anchor="end">0</text>
<text transform="translate(295.00 393.40) scale(0.985 1)" font-size="12.8" text-anchor="end">1</text>
<text transform="translate(295.00 350.89) scale(0.985 1)" font-size="12.8" text-anchor="end">2</text>
<text transform="translate(295.00 308.38) scale(0.985 1)" font-size="12.8" text-anchor="end">3</text>
<text transform="translate(295.00 265.87) scale(0.985 1)" font-size="12.8" text-anchor="end">4</text>
<line x1="301.80" y1="470.00" x2="301.80" y2="477.30" stroke="#111" stroke-width="1.05"/>
<line x1="317.80" y1="470.00" x2="317.80" y2="477.30" stroke="#111" stroke-width="1.05"/>
<line x1="333.95" y1="470.00" x2="333.95" y2="477.30" stroke="#111" stroke-width="1.05"/>
<line x1="350.10" y1="470.00" x2="350.10" y2="477.30" stroke="#111" stroke-width="1.05"/>
<line x1="366.25" y1="470.00" x2="366.25" y2="477.30" stroke="#111" stroke-width="1.05"/>
<line x1="382.40" y1="470.00" x2="382.40" y2="477.30" stroke="#111" stroke-width="1.05"/>
<line x1="398.55" y1="470.00" x2="398.55" y2="477.30" stroke="#111" stroke-width="1.05"/>
<line x1="414.70" y1="470.00" x2="414.70" y2="477.30" stroke="#111" stroke-width="1.05"/>
<line x1="430.85" y1="470.00" x2="430.85" y2="477.30" stroke="#111" stroke-width="1.05"/>
<line x1="447.00" y1="470.00" x2="447.00" y2="477.30" stroke="#111" stroke-width="1.05"/>
<line x1="463.15" y1="470.00" x2="463.15" y2="477.30" stroke="#111" stroke-width="1.05"/>
<line x1="479.30" y1="470.00" x2="479.30" y2="477.30" stroke="#111" stroke-width="1.05"/>
<line x1="495.45" y1="470.00" x2="495.45" y2="477.30" stroke="#111" stroke-width="1.05"/>
<line x1="511.60" y1="470.00" x2="511.60" y2="477.30" stroke="#111" stroke-width="1.05"/>
<text x="320.5" y="289.2" font-size="16.5" font-weight="bold" textLength="107" lengthAdjust="spacingAndGlyphs" xml:space="preserve" style="white-space:pre">H.  Basophils</text>
<text transform="translate(276.6 364.8) rotate(-90)" font-size="13.3" text-anchor="middle" textLength="188.4" lengthAdjust="spacingAndGlyphs">Absolute basophil count x 10<tspan dy="-4.5" font-size="9">3</tspan><tspan dy="4.5">/µl</tspan></text>
<clipPath id="cl"><rect x="291.8" y="470" width="229.8" height="110.40"/></clipPath><g clip-path="url(#cl)">
<text transform="translate(322.10 483.10) rotate(-90)" font-size="13.55" text-anchor="end">Control</text>
<text transform="translate(338.25 483.10) rotate(-90)" font-size="13.55" text-anchor="end">FL(10)</text>
<text transform="translate(354.40 483.10) rotate(-90)" font-size="13.55" text-anchor="end">FL(50)</text>
<text transform="translate(370.55 483.10) rotate(-90)" font-size="13.55" text-anchor="end">FL(100)</text>
<text transform="translate(386.70 483.10) rotate(-90)" font-size="13.55" text-anchor="end">G(10)</text>
<text transform="translate(402.85 483.10) rotate(-90)" font-size="13.55" text-anchor="end">G(50)</text>
<text transform="translate(419.00 483.10) rotate(-90)" font-size="13.55" text-anchor="end">G(100)</text>
<text transform="translate(435.15 483.10) rotate(-90)" font-size="13.55" text-anchor="end">G(100)+FL(10)</text>
<text transform="translate(451.30 483.10) rotate(-90)" font-size="13.55" text-anchor="end">G(100) + FL (50</text>
<text transform="translate(467.45 483.10) rotate(-90)" font-size="13.55" text-anchor="end">G(100) + FL(100</text>
<text transform="translate(483.60 483.10) rotate(-90)" font-size="13.55" text-anchor="end">G(50) + FL(100)</text>
<text transform="translate(499.75 483.10) rotate(-90)" font-size="13.55" text-anchor="end">G(10) + FL(100)</text>
</g>
</svg>
</body></html>
